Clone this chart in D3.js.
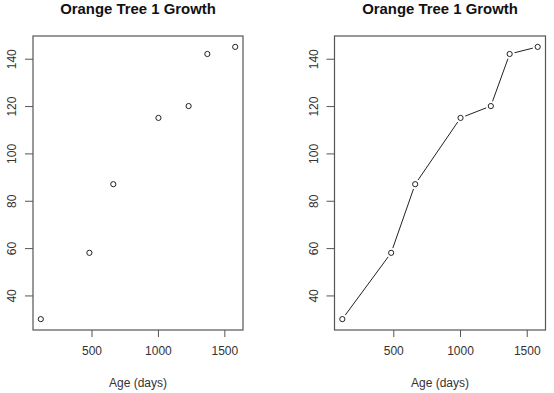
<!DOCTYPE html>
<html><head><meta charset="utf-8">
<script src="https://cdn.jsdelivr.net/npm/d3@7"></script>
<style>body{margin:0;background:#fff}svg{display:block}</style>
</head><body>
<script>
const ages = [118, 484, 664, 1004, 1231, 1372, 1582];
const circumference = [30, 58, 87, 115, 120, 142, 145];
const xTicks = [500, 1000, 1500];
const yTicks = [40, 60, 80, 100, 120, 140];
const title = "Orange Tree 1 Growth";
const xLabel = "Age (days)";

const W = 554, H = 393;
const svg = d3.select("body").append("svg").attr("width", W).attr("height", H);
const data = ages.map((a, i) => ({x: a, y: circumference[i]}));

const panels = [
  {left: 33, right: 243, type: "p"},
  {left: 334.5, right: 545.5, type: "b"}
];
const plotTop = 36, plotBottom = 330;
const font = "Liberation Sans, Arial, sans-serif";
const ink = "#333";

function pad(ext) { const r = ext[1] - ext[0]; return [ext[0] - 0.04 * r, ext[1] + 0.04 * r]; }

panels.forEach(p => {
  const g = svg.append("g");
  const x = d3.scaleLinear().domain(pad(d3.extent(ages))).range([p.left, p.right]);
  const y = d3.scaleLinear().domain(pad(d3.extent(circumference))).range([plotBottom, plotTop]);

  g.append("rect").attr("x", p.left).attr("y", plotTop)
    .attr("width", p.right - p.left).attr("height", plotBottom - plotTop)
    .attr("fill", "none").attr("stroke", "#555").attr("stroke-width", 1.2);

  const xa = g.append("g").attr("transform", `translate(0,${plotBottom})`)
    .call(d3.axisBottom(x).tickValues(xTicks).tickSize(7).tickPadding(9).tickFormat(d3.format("d")));
  xa.select(".domain").remove();
  xa.selectAll("line").attr("stroke", "#555");
  xa.selectAll("text").attr("font-family", font).attr("font-size", 12).attr("fill", ink);

  const ya = g.append("g").attr("transform", `translate(${p.left},0)`)
    .call(d3.axisLeft(y).tickValues(yTicks).tickSize(8).tickFormat(d3.format("d")));
  ya.select(".domain").remove();
  ya.selectAll("line").attr("stroke", "#555");
  ya.selectAll("text")
    .attr("font-family", font).attr("font-size", 12).attr("fill", ink)
    .attr("text-anchor", "middle").attr("dy", null)
    .attr("x", 0).attr("y", 0)
    .attr("transform", d => `translate(${-21},0) rotate(-90)`)
    .attr("dominant-baseline", "central");

  svg.append("text").attr("x", (p.left + p.right) / 2).attr("y", 13.5)
    .attr("text-anchor", "middle").attr("font-family", font)
    .attr("font-weight", "bold").attr("font-size", 14.9).attr("fill", "#111").text(title);

  svg.append("text").attr("x", (p.left + p.right) / 2).attr("y", 387)
    .attr("text-anchor", "middle").attr("font-family", font)
    .attr("font-size", 12).attr("fill", ink).text(xLabel);

  if (p.type === "b") {
    const gap = 5;
    for (let i = 0; i < data.length - 1; i++) {
      const x1 = x(data[i].x), y1 = y(data[i].y), x2 = x(data[i+1].x), y2 = y(data[i+1].y);
      const L = Math.hypot(x2 - x1, y2 - y1);
      if (L <= 2 * gap) continue;
      const ux = (x2 - x1) / L, uy = (y2 - y1) / L;
      g.append("line").attr("x1", x1 + ux * gap).attr("y1", y1 + uy * gap)
        .attr("x2", x2 - ux * gap).attr("y2", y2 - uy * gap)
        .attr("stroke", "#222").attr("stroke-width", 1);
    }
  }
  g.selectAll("circle.pt").data(data).join("circle").attr("class", "pt")
    .attr("cx", d => x(d.x)).attr("cy", d => y(d.y)).attr("r", 2.6)
    .attr("fill", "none").attr("stroke", "#222").attr("stroke-width", 1);
});
</script>
</body></html>
